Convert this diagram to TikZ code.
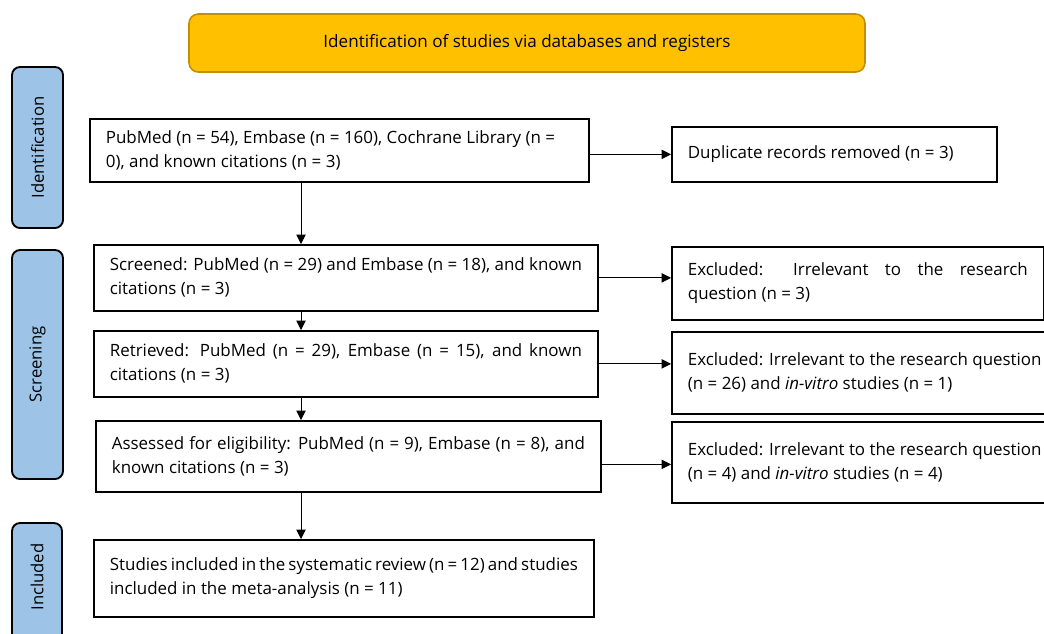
\documentclass[tikz,border=0pt]{standalone}
\usepackage{fontspec}
\setmainfont{Open Sans}
\usetikzlibrary{arrows.meta}

\definecolor{bannerfill}{RGB}{255,192,0}
\definecolor{bannerline}{RGB}{191,144,0}
\definecolor{stagefill}{RGB}{157,195,230}
\hyphenpenalty=10000
\exhyphenpenalty=10000

\begin{document}
\begin{tikzpicture}[x=0.75pt,y=0.75pt,yscale=-1,xscale=1,
    flowbox/.style={draw, line width=1.3pt, anchor=north west, inner xsep=12pt, inner ysep=0pt,
        align=justify, font=\fontsize{12.7}{18}\selectfont},
    stagebox/.style={draw, line width=1.4pt, rounded corners=6pt, fill=stagefill},
    stagetext/.style={rotate=90, font=\fontsize{12.5}{14}\selectfont},
    link/.style={-{Triangle[length=7pt,width=7pt]}, line width=0.7pt}]
\useasboundingbox (0,0) rectangle (1044,633);
\clip (0,0) rectangle (1044,633);

% Banner
\node [draw=bannerline, line width=1.2pt, fill=bannerfill, rounded corners=7pt,
    minimum width=507pt, minimum height=43.5pt, font=\fontsize{12.8}{14}\selectfont] (banner) at (527,43)
    {Identification of studies via databases and registers};

% Stage labels
\draw [stagebox] (12,67) rectangle (63,228);
\node [stagetext] (identlbl) at (37.5,147.5) {Identification};
\draw [stagebox] (12,250) rectangle (63,479);
\node [stagetext] (screenlbl) at (37.5,364.5) {Screening};
\draw [stagebox] (12,523) rectangle (62,690);
\node [stagetext] (incllbl) at (37,577) {Included};

% Main column
\node [flowbox, minimum width=374.25pt, minimum height=47.25pt, text width=350.25pt] (records) at (89,118)
    {PubMed (n = 54), Embase (n = 160), Cochrane Library (n =\\ 0), and known citations (n = 3)};
\node [flowbox, minimum width=378pt, minimum height=49.5pt, text width=354pt] (screened) at (93,244)
    {Screened: PubMed (n = 29) and Embase (n = 18), and known citations (n = 3)};
\node [flowbox, minimum width=378pt, minimum height=49.5pt, text width=354pt] (retrieved) at (93,330)
    {Retrieved: PubMed (n = 29), Embase (n = 15), and known citations (n = 3)};
\node [flowbox, minimum width=378.75pt, minimum height=53.25pt, text width=354.75pt] (assessed) at (95,420)
    {Assessed for eligibility: PubMed (n = 9), Embase (n = 8), and known citations (n = 3)};
\node [flowbox, minimum width=375pt, minimum height=57.75pt, text width=351pt] (included) at (93,539)
    {Studies included in the systematic review (n = 12) and studies\\ included in the meta-analysis (n = 11)};

% Side column
\node [flowbox, minimum width=243.75pt, minimum height=41.25pt, text width=219.75pt] (dupl) at (671,126)
    {Duplicate records removed (n = 3)};
\node [flowbox, minimum width=279pt, minimum height=54.75pt, text width=255pt] (excl1) at (671,246)
    {Excluded: Irrelevant to the research question (n = 3)};
\node [flowbox, minimum width=294pt, minimum height=61.5pt, text width=270pt] (excl2) at (671,331)
    {Excluded: Irrelevant to the research question\\ (n = 26) and \textit{in-vitro} studies (n = 1)};
\node [flowbox, minimum width=294pt, minimum height=60.75pt, text width=270pt] (excl3) at (671,421)
    {Excluded: Irrelevant to the research question\\ (n = 4) and \textit{in-vitro} studies (n = 4)};

% Arrows
\coordinate (ax) at (301,0);
\coordinate (asout) at ([yshift=6pt]assessed.east);
\draw [link] (records.south -| ax) -- (screened.north -| ax);
\draw [link] (screened.south -| ax) -- (retrieved.north -| ax);
\draw [link] (retrieved.south -| ax) -- (assessed.north -| ax);
\draw [link] (assessed.south -| ax) -- (included.north -| ax);

\draw [link] (records.east |- dupl.west) -- (dupl.west);
\draw [link] (screened.east) -- (excl1.west |- screened.east);
\draw [link] (retrieved.east) -- (excl2.west |- retrieved.east);
\draw [link] (asout) -- (excl3.west |- asout);
\end{tikzpicture}
\end{document}
